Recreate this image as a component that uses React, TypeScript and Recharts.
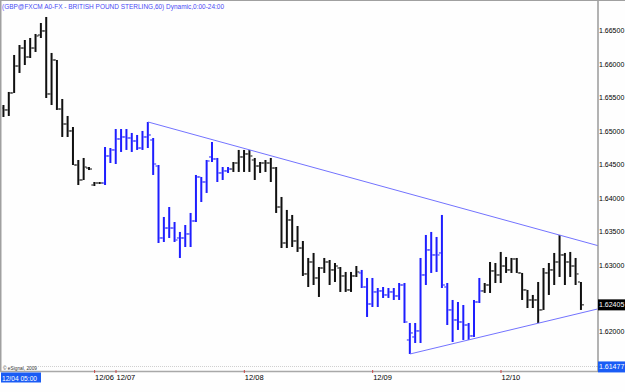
import React from "react";
import { ComposedChart, Bar, XAxis, YAxis, ReferenceLine } from "recharts";

// GBP/USD hourly bars, 12/04 05:00 -> 12/10
const opens = [
  1.65348, 1.65319, 1.65573, 1.65976, 1.66245, 1.66111, 1.66245, 1.6644, 1.665, 1.65558,
  1.66066, 1.65333, 1.65109, 1.65005, 1.64496, 1.64272, 1.64451, 1.64197, 1.64227, 1.64227,
  1.64631, 1.64721, 1.64885, 1.64915, 1.649, 1.64855, 1.6475, 1.64915, 1.6487, 1.64481,
  1.63405, 1.63554, 1.63554, 1.63405, 1.63405, 1.63465, 1.63659, 1.64317, 1.64242, 1.64616,
  1.64586, 1.64377, 1.64407, 1.64436, 1.64526, 1.64616, 1.64661, 1.64571, 1.64481, 1.64526,
  1.64526, 1.64451, 1.63868, 1.6333, 1.63674, 1.6336, 1.63255, 1.62867, 1.63046, 1.62807,
  1.62956, 1.63046, 1.62927, 1.62956, 1.62837, 1.62628, 1.62837, 1.62882, 1.62672, 1.62418,
  1.62598, 1.62613, 1.62553, 1.62598, 1.62538, 1.62702, 1.6188, 1.61925, 1.62015, 1.62852,
  1.63226, 1.63151, 1.63181, 1.62672, 1.62329, 1.62179, 1.62149, 1.62104, 1.6194, 1.62448,
  1.62613, 1.62702, 1.62912, 1.62852, 1.62986, 1.62927, 1.63091, 1.62882, 1.62628, 1.62478,
  1.62478, 1.62329, 1.62882, 1.62927, 1.63046, 1.63151, 1.63046, 1.62986, 1.62747,
];
const highs = [
  1.65393, 1.65588, 1.66141, 1.6629, 1.66365, 1.66395, 1.66455, 1.66619, 1.66709, 1.66171,
  1.66066, 1.65483, 1.65229, 1.65064, 1.64571, 1.64601, 1.64466, 1.64242, 1.64242, 1.64765,
  1.6475, 1.65034, 1.65034, 1.65034, 1.64975, 1.64945, 1.65005, 1.65139, 1.649, 1.64496,
  1.63719, 1.63868, 1.63644, 1.63495, 1.63599, 1.63779, 1.64347, 1.64317, 1.64571, 1.6484,
  1.64601, 1.64466, 1.64466, 1.64541, 1.64721, 1.64721, 1.64721, 1.64601, 1.64541, 1.64571,
  1.64601, 1.64466, 1.64018, 1.63824, 1.63749, 1.63584, 1.6336, 1.63106, 1.63181, 1.62971,
  1.63106, 1.63076, 1.63031, 1.62971, 1.62897, 1.62897, 1.62986, 1.62927, 1.62807, 1.62807,
  1.62657, 1.62672, 1.62657, 1.62657, 1.62732, 1.62732, 1.62134, 1.62134, 1.63106, 1.6345,
  1.63495, 1.6342, 1.63749, 1.62732, 1.62478, 1.62448, 1.62403, 1.62134, 1.62478, 1.62807,
  1.62732, 1.63046, 1.63031, 1.63196, 1.63121, 1.63106, 1.63106, 1.62882, 1.62628, 1.62553,
  1.62747, 1.62956, 1.63031, 1.63181, 1.6345, 1.63181, 1.63196, 1.63106, 1.62747,
];
const lows = [
  1.65214, 1.65229, 1.65573, 1.65872, 1.65991, 1.66096, 1.66186, 1.66395, 1.65498, 1.65393,
  1.65319, 1.64915, 1.64915, 1.64496, 1.64197, 1.64272, 1.64421, 1.64182, 1.64212, 1.64197,
  1.64526, 1.64511, 1.64691, 1.64721, 1.64691, 1.64721, 1.64721, 1.6475, 1.64347, 1.6333,
  1.63345, 1.63405, 1.63345, 1.63106, 1.6327, 1.6327, 1.63644, 1.63943, 1.64078, 1.64541,
  1.64242, 1.64272, 1.64377, 1.64392, 1.64392, 1.64392, 1.64392, 1.64272, 1.64377, 1.64392,
  1.64242, 1.63779, 1.63255, 1.63255, 1.6327, 1.63196, 1.62837, 1.62672, 1.62702, 1.62523,
  1.62882, 1.62702, 1.62747, 1.62598, 1.62598, 1.62598, 1.62822, 1.62657, 1.62224, 1.62373,
  1.62373, 1.62508, 1.62508, 1.62478, 1.62478, 1.62134, 1.61671, 1.61835, 1.61835, 1.62702,
  1.62882, 1.62897, 1.62657, 1.62104, 1.6185, 1.6203, 1.6188, 1.6188, 1.61925, 1.62433,
  1.62583, 1.62583, 1.62732, 1.62732, 1.62882, 1.62882, 1.62882, 1.62478, 1.62358, 1.62358,
  1.62134, 1.62329, 1.62553, 1.62702, 1.62822, 1.62702, 1.62822, 1.62702, 1.62329,
];
const closes = [
  1.65319, 1.65573, 1.65976, 1.66245, 1.66111, 1.66245, 1.66425, 1.665, 1.65558, 1.66066,
  1.65333, 1.65109, 1.65005, 1.64496, 1.64272, 1.64466, 1.64436, 1.64227, 1.64227, 1.64631,
  1.64721, 1.64885, 1.64915, 1.649, 1.64855, 1.6475, 1.64915, 1.64945, 1.64511, 1.63405,
  1.63554, 1.63554, 1.63375, 1.63405, 1.63465, 1.63659, 1.64317, 1.64242, 1.64556, 1.64586,
  1.64377, 1.64407, 1.64436, 1.64526, 1.64616, 1.64661, 1.64631, 1.64481, 1.64526, 1.64526,
  1.64451, 1.63868, 1.6333, 1.63674, 1.6336, 1.63255, 1.62867, 1.63046, 1.62807, 1.62956,
  1.63046, 1.62927, 1.62986, 1.62837, 1.62628, 1.62837, 1.62897, 1.62672, 1.62418, 1.62598,
  1.62613, 1.62553, 1.62598, 1.62538, 1.62702, 1.62149, 1.61985, 1.62015, 1.62852, 1.63226,
  1.63151, 1.63151, 1.62702, 1.62329, 1.62179, 1.62149, 1.62104, 1.6194, 1.62448, 1.62613,
  1.62702, 1.62912, 1.62852, 1.62986, 1.62927, 1.63091, 1.62882, 1.62628, 1.62478, 1.62478,
  1.62329, 1.62882, 1.62927, 1.63046, 1.63151, 1.63046, 1.62986, 1.62867, 1.62405,
];

const dayTicks = [17, 21, 45, 69, 93];
const dayLabels = ["12/06", "12/07", "12/08", "12/09", "12/10"];
// 1.625 is hidden behind the last-price box
const priceTicks = [1.62, 1.63, 1.635, 1.64, 1.645, 1.65, 1.655, 1.66, 1.665];
const lastPrice = 1.62405;
const bottomPrice = 1.61477;
const upperTrend = [{ x: 27, y: 1.65139 }, { x: 111.14, y: 1.6329 }];
const lowerTrend = [{ x: 76, y: 1.61671 }, { x: 111.14, y: 1.62345 }];

// bar runs painted blue by eSignal
const blueRuns = [[19, 42], [67, 89]];

const BLUE = "#1e1eff";
const BLACK = "#101010";
const FONT = "'Liberation Sans', Arial, sans-serif";

const rows = opens.map((o, i) => ({
  i,
  o,
  h: highs[i],
  l: lows[i],
  c: closes[i],
  range: [lows[i], highs[i]],
}));

const isBlue = (i: number) => blueRuns.some(([a, b]) => i >= a && i <= b);

const OhlcShape = (props: any) => {
  const { x, y, width, height, payload } = props;
  if (x == null || payload == null) return null;
  const cx = x + width / 2;
  const top = Math.min(y, y + height);
  const bot = Math.max(y, y + height);
  const span = payload.h - payload.l;
  const at = (v: number) => (span > 0 ? top + ((payload.h - v) / span) * (bot - top) : top);
  const col = isBlue(payload.i) ? BLUE : BLACK;
  return (
    <g>
      <rect x={cx - 1} y={top} width={2} height={Math.max(bot - top, 1)} fill={col} />
      <rect x={cx - 3} y={at(payload.o) - 0.5} width={2} height={1} fill={col} />
      <rect x={cx + 1} y={at(payload.c) - 0.5} width={2} height={1} fill={col} />
    </g>
  );
};

const DayTick = (props: any) => {
  const { x, y, payload } = props;
  const k = dayTicks.indexOf(payload.value);
  return (
    <g>
      <rect x={x - 0.5} y={y + 3} width={1} height={3} fill="#d04040" />
      <text x={x + 0.5} y={y + 13} fontSize={7.5} fontFamily={FONT} fill="#000">
        {dayLabels[k]}
      </text>
    </g>
  );
};

const PriceTick = (props: any) => {
  const { x, y, payload } = props;
  const v = payload.value;
  if (v === lastPrice || v === bottomPrice) {
    return (
      <g>
        <rect x={x - 1} y={y - 5.5} width={27} height={11} fill={v === lastPrice ? "#000" : "#1a5cf5"} />
        <text x={x} y={y + 2.5} fontSize={7} fontFamily={FONT} fill="#fff">
          {v.toFixed(5)}
        </text>
      </g>
    );
  }
  return (
    <text x={x} y={y + 2.5} fontSize={7} fontFamily={FONT} fill="#000">
      {v.toFixed(5)}
    </text>
  );
};

export default function App() {
  return (
    <div style={{ position: "absolute", left: 0, top: 0, width: 625, height: 392, background: "#fefefe" }}>
      <svg width={625} height={392} style={{ position: "absolute", left: 0, top: 0 }}>
        <line x1={0} y1={0.5} x2={625} y2={0.5} stroke="#a0a0a0" />
        <line x1={0.75} y1={0} x2={0.75} y2={372} stroke="#a0a0a0" strokeWidth={1.5} />
        <line x1={38} y1={366.5} x2={598} y2={366.5} stroke="#d0d0d0" strokeDasharray="1 1" />
        <line x1={0} y1={371.5} x2={598} y2={371.5} stroke="#a8a8a8" strokeWidth={1.5} />
        <line x1={598} y1={366} x2={598} y2={372} stroke="#9a9a9a" strokeWidth={1.5} />
        <text x={2} y={9} fontSize={7.5} fontFamily={FONT} fill="#4a4af5" textLength={222} lengthAdjust="spacingAndGlyphs">
          (GBP@FXCM A0-FX - BRITISH POUND STERLING,60) Dynamic,0:00-24:00
        </text>
        <text x={3} y={369.5} fontSize={4.5} fontFamily={FONT} fill="#333" textLength={34} lengthAdjust="spacingAndGlyphs">
          © eSignal, 2009
        </text>
        <rect x={1} y={372.5} width={40} height={10} fill="#1a5cf5" />
        <text x={2} y={380.5} fontSize={7.5} fontFamily={FONT} fill="#fff" textLength={35} lengthAdjust="spacingAndGlyphs">
          12/04 05:00
        </text>
      </svg>
      <div style={{ position: "absolute", left: 0, top: 0 }}>
        <ComposedChart width={625} height={392} data={rows} margin={{ top: 1, right: 0, bottom: 0, left: 2 }}>
          <XAxis
            dataKey="i"
            type="number"
            domain={[-0.32, 111.14]}
            allowDataOverflow
            ticks={dayTicks}
            interval={0}
            axisLine={false}
            tickLine={false}
            tickSize={0}
            tickMargin={0}
            height={25}
            tick={<DayTick />}
          />
          <YAxis
            orientation="right"
            type="number"
            domain={[1.61476, 1.66948]}
            allowDataOverflow
            ticks={[...priceTicks, lastPrice, bottomPrice]}
            interval={0}
            width={27}
            tickSize={0}
            tickMargin={1}
            tickLine={false}
            axisLine={{ stroke: "#9a9a9a", strokeWidth: 1.5 }}
            tick={<PriceTick />}
          />
          <Bar dataKey="range" barSize={6} shape={(p: any) => <OhlcShape {...p} />} isAnimationActive={false} />
          <ReferenceLine segment={upperTrend} stroke="#7373ff" strokeWidth={1} ifOverflow="visible" />
          <ReferenceLine segment={lowerTrend} stroke="#7373ff" strokeWidth={1} ifOverflow="visible" />
        </ComposedChart>
      </div>
    </div>
  );
}
